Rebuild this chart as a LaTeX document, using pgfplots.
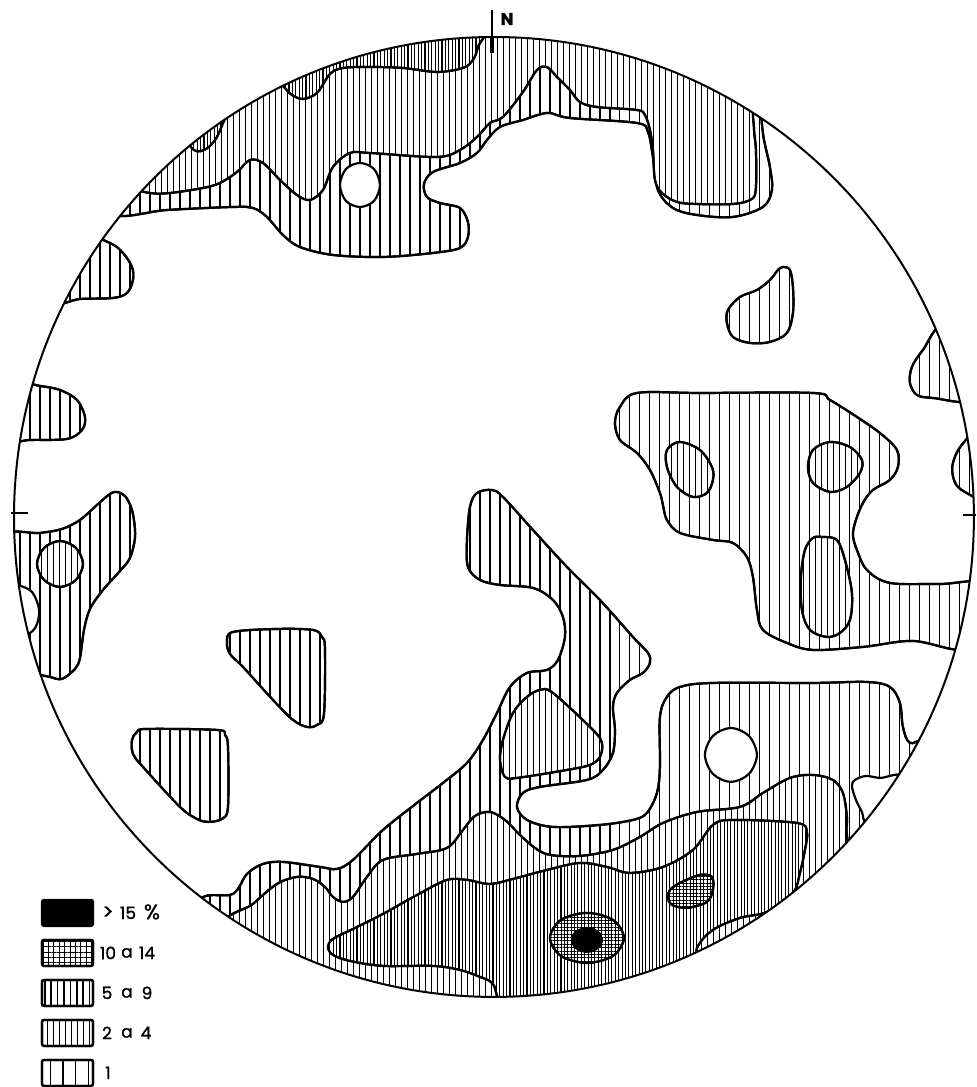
\documentclass[border=0pt]{standalone}
\usepackage{fontspec}
\setmainfont{Poppins}
\newfontfamily\labfont{Poppins}[FakeBold=1.3]
\usepackage{pgfplots}
\pgfplotsset{compat=1.18}
\usetikzlibrary{patterns.meta}
\pgfplotsset{
 base/.style={smooth cycle, tension=0.55, draw=black, line width=1.1pt, line join=round},
 lone/.style={base, fill=white, postaction={pattern={Lines[angle=90,distance=5pt,line width=0.55pt]}}},
 ltwo/.style={base, fill=white, postaction={pattern={Lines[angle=90,distance=3pt,line width=0.5pt]}}},
 lthree/.style={base, fill=white, postaction={pattern={Lines[angle=90,distance=1.7pt,line width=0.55pt]}}},
 lfour/.style={base, fill=white, postaction={pattern={Hatch[angle=0,distance=1.7pt,line width=0.45pt]}}},
 lfive/.style={base, fill=black},
 hole/.style={base, fill=white},
}
\begin{document}
\begin{tikzpicture}
\begin{axis}[scale only axis, width=488pt, height=543.5pt,
  xmin=0, xmax=976, ymin=0, ymax=1087, y dir=reverse,
  axis line style={draw=none}, xtick=\empty, ytick=\empty, clip=false]
\begin{scope}
\clip (axis cs:494,517) circle [radius=480];
% ---------- level 1 ----------
\addplot[lone] coordinates {(95,170) (112,214) (167,210) (233,207) (253,208) (267,217) (283,235) (300,247) (333,255) (383,257) (433,253) (460,248) (468,237) (468,222) (460,208) (440,203) (427,197) (424,184) (433,172) (460,163) (477,153) (487,140) (500,127) (523,120) (538,115) (550,113) (570,118) (637,123) (648,132) (653,157) (658,190) (673,208) (697,215) (733,217) (763,207) (772,190) (770,167) (763,133) (764,105) (790,60) (650,5) (494,5) (300,20) (150,90)};
\addplot[lone] coordinates {(55,262) (80,235) (110,243) (123,253) (132,267) (133,280) (127,293) (113,298) (80,299) (55,302)};
\addplot[lone] coordinates {(0,410) (15,383) (40,386) (60,390) (77,400) (85,417) (82,430) (67,439) (30,440) (5,441)};
\addplot[lone] coordinates {(0,600) (0,537) (40,533) (62,529) (80,520) (97,505) (110,494) (117,492) (125,496) (131,507) (134,520) (135,538) (130,558) (120,571) (103,590) (90,609) (84,630) (80,658) (75,669) (62,679) (50,677) (35,673) (10,660)};
\addplot[lone] coordinates {(233,632) (277,629) (313,630) (322,637) (325,649) (324,714) (317,725) (307,727) (293,720) (273,700) (243,667) (230,654) (227,642)};
\addplot[lone] coordinates {(137,732) (147,729) (217,730) (225,735) (228,747) (228,807) (222,819) (208,822) (197,819) (180,807) (143,767) (133,754) (132,740)};
\addplot[lone] coordinates {(783,267) (790,270) (793,287) (793,313) (787,333) (770,342) (750,343) (733,337) (727,323) (728,310) (740,297) (757,290) (770,280) (778,270)};
\addplot[lone] coordinates {(990,360) (945,325) (923,350) (912,367) (910,383) (917,395) (933,398) (975,400)};
\addplot[lone] coordinates {(995,460) (980,430) (961,446) (953,463) (953,476) (958,487) (972,496) (990,505)};
\addplot[lone] coordinates {(620,407) (637,393) (700,393) (813,393) (830,400) (857,417) (880,433) (897,450) (898,467) (890,480) (873,490) (863,503) (856,520) (853,535) (857,550) (867,570) (890,583) (940,584) (990,585) (995,640) (960,650) (913,641) (863,647) (813,650) (787,643) (763,630) (757,610) (753,577) (747,557) (733,543) (713,540) (680,533) (667,520) (663,505) (660,493) (650,470) (637,453) (620,440) (615,423)};
\addplot[lone] coordinates {(200,905) (233,894) (247,874) (263,864) (283,862) (320,867) (337,869) (353,860) (383,830) (417,803) (443,783) (467,763) (483,740) (497,713) (510,687) (527,673) (547,670) (558,660) (565,637) (563,617) (553,600) (533,588) (500,585) (480,580) (468,567) (467,540) (470,507) (477,493) (492,490) (503,497) (533,530) (567,567) (600,600) (633,637) (648,653) (650,663) (643,673) (630,680) (617,693) (613,707) (615,730) (613,753) (603,770) (587,780) (540,787) (523,793) (517,807) (527,820) (553,827) (600,825) (633,820) (647,813) (657,793) (660,767) (660,717) (667,697) (680,687) (713,683) (813,683) (867,682) (890,687) (900,703) (903,727) (910,743) (930,745) (1000,800) (800,1050) (500,1060) (250,1000)};
% ---------- holes ----------
\addplot[hole] coordinates {(380,185) (374,201) (360,207) (346,201) (340,185) (346,169) (360,163) (374,169)};
\addplot[hole] coordinates {(757,755) (749,774) (731,782) (713,774) (705,755) (713,736) (731,728) (749,736)};
\addplot[hole] coordinates {(905,778) (880,778) (866,776) (855,780) (852,786) (856,800) (862,812) (868,825) (900,830)};
\addplot[hole] coordinates {(0,610) (5,582) (18,585) (32,592) (39,609) (37,624) (30,633) (12,640)};
% ---------- level 2 ----------
\addplot[ltwo] coordinates {(120,170) (125,186) (150,193) (170,193) (203,188) (220,183) (237,172) (250,160) (263,163) (280,180) (297,195) (310,200) (323,190) (333,167) (350,153) (370,153) (437,157) (460,150) (477,137) (490,123) (503,117) (523,92) (537,70) (547,67) (557,77) (570,90) (580,102) (597,107) (637,110) (645,115) (650,130) (653,150) (655,180) (662,193) (677,202) (697,204) (733,204) (752,199) (756,187) (756,150) (754,128) (755,100) (780,60) (650,5) (494,5) (300,30) (170,110)};
\addplot[ltwo] coordinates {(83,564) (76,580) (60,587) (44,580) (37,564) (44,548) (60,541) (76,548)};
\addplot[ltwo] coordinates {(540,690) (553,693) (593,730) (602,743) (600,757) (590,765) (567,770) (517,778) (505,777) (500,760) (503,740) (513,713) (527,697)};
\addplot[ltwo] coordinates {(680,442) (700,450) (712,467) (713,480) (707,493) (693,497) (677,487) (667,467) (667,450)};
\addplot[ltwo] coordinates {(830,442) (850,447) (862,460) (860,473) (847,487) (830,492) (813,483) (808,467) (813,450)};
\addplot[ltwo] coordinates {(823,537) (837,540) (845,560) (852,593) (850,620) (840,633) (827,637) (810,630) (802,610) (801,577) (805,550) (813,538)};
\addplot[ltwo] coordinates {(225,930) (253,904) (277,884) (297,877) (313,879) (325,887) (333,897) (343,902) (353,897) (367,877) (383,860) (417,854) (447,848) (463,830) (475,816) (490,812) (505,820) (520,835) (535,848) (550,855) (580,856) (613,850) (640,837) (663,823) (697,812) (740,807) (763,793) (790,778) (813,775) (833,780) (843,793) (847,817) (847,835) (855,865) (900,920) (600,1060) (300,1010)};
% ---------- level 3 ----------
\addplot[lthree] coordinates {(180,128) (194,150) (206,149) (215,140) (221,128) (226,108) (200,110)};
\addplot[lthree] coordinates {(272,70) (285,88) (292,95) (303,99) (317,93) (330,74) (343,68) (370,67) (403,68) (437,72) (463,68) (473,60) (478,47) (482,25) (400,20) (300,45)};
\addplot[lthree] coordinates {(328,947) (333,939) (353,929) (383,914) (417,895) (447,880) (467,880) (490,884) (513,879) (547,870) (580,863) (607,867) (630,873) (663,867) (693,850) (713,825) (733,820) (797,823) (807,832) (805,850) (800,873) (793,893) (767,912) (740,918) (713,930) (697,948) (692,975) (600,1030) (510,1010) (493,984) (480,977) (460,970) (433,966) (383,966) (350,961) (333,955)};
% ---------- level 4 ----------
\addplot[lfour] coordinates {(624,938) (613,956) (587,963) (561,956) (550,938) (561,920) (587,913) (613,920)};
\addplot[lfour] coordinates {(670,890) (680,883) (700,875) (712,877) (713,890) (707,902) (687,908) (672,905) (668,898)};
% ---------- level 5 ----------
\addplot[lfive] coordinates {(602,940) (598,948) (587,952) (576,948) (572,940) (576,932) (587,928) (598,932)};
\end{scope}
% frame
\draw[line width=1pt] (axis cs:494,517) circle [radius=480];
\draw[line width=0.8pt] (axis cs:492,10) -- (axis cs:492,40);
\draw[line width=2.2pt] (axis cs:492,37) -- (axis cs:492,53);
\draw[line width=1pt] (axis cs:11,513) -- (axis cs:28,513);
\draw[line width=1pt] (axis cs:963,515) -- (axis cs:976,515);
\node[font=\labfont\bfseries\fontsize{8.5}{9}\selectfont] at (axis cs:507,19) {N};
% legend
\addplot[draw=black, line width=1.1pt, fill=black, rounded corners=1pt] coordinates {(42,900) (93,900) (93,926) (42,926)} -- cycle;
\addplot[draw=black, line width=1.1pt, fill=white, rounded corners=1pt, postaction={pattern={Hatch[angle=0,distance=2.7pt,line width=0.5pt]}}] coordinates {(42,940) (93,940) (93,966) (42,966)} -- cycle;
\addplot[draw=black, line width=1.1pt, fill=white, rounded corners=1pt, postaction={pattern={Lines[angle=90,distance=3.2pt,line width=0.75pt]}}] coordinates {(42,980) (93,980) (93,1006) (42,1006)} -- cycle;
\addplot[draw=black, line width=1.1pt, fill=white, rounded corners=1pt, postaction={pattern={Lines[angle=90,distance=3pt,line width=0.5pt]}}] coordinates {(42,1020) (93,1020) (93,1046) (42,1046)} -- cycle;
\addplot[draw=black, line width=1.1pt, fill=white, rounded corners=1pt, postaction={pattern={Lines[angle=90,distance=6.3pt,line width=0.55pt]}}] coordinates {(42,1060) (93,1060) (93,1086) (42,1086)} -- cycle;
\begin{scope}[every node/.style={font=\labfont\fontsize{8.5}{10}\selectfont}]
\node at (axis cs:108,913) {\fontsize{10.5}{12}\selectfont >};
\node at (axis cs:128,913) {15};
\node at (axis cs:152,912) {\fontsize{10.5}{12}\selectfont\%};
\node at (axis cs:108,953) {10};
\node at (axis cs:127,953) {a};
\node at (axis cs:147,953) {14};
\node at (axis cs:107,993) {5};
\node at (axis cs:127,993) {a};
\node at (axis cs:147,993) {9};
\node at (axis cs:107,1033) {2};
\node at (axis cs:127,1033) {a};
\node at (axis cs:146,1033) {4};
\node at (axis cs:108,1073) {1};
\end{scope}
\end{axis}
\end{tikzpicture}
\end{document}
